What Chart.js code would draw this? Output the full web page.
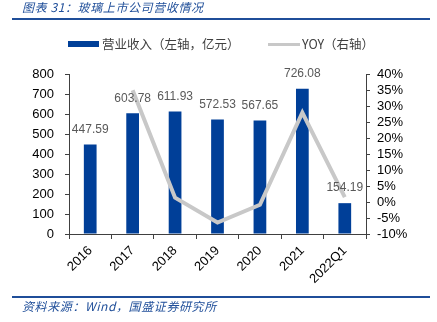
<!DOCTYPE html>
<html>
<head>
<meta charset="utf-8">
<script src="https://cdn.jsdelivr.net/npm/chart.js@4"></script>
<style>
  body { margin: 0; background: #fff; }
  #wrap { position: relative; width: 437px; height: 322px; overflow: hidden; font-family: "Liberation Sans", Arial, sans-serif; }
  #chart { position: absolute; left: 0; top: 0; }
  .cap { position: absolute; left: 22px; color: #1f4e99; font-style: italic; font-family: "Noto Sans CJK SC", sans-serif; font-size: 12px; letter-spacing: 0.6px; white-space: nowrap; }
  .rule { position: absolute; left: 12px; width: 418px; height: 2px; background: #1f4e99; }
  .legend { position: absolute; top: 36px; font-size: 12.5px; color: #404040; white-space: nowrap; font-family: "Noto Sans CJK SC", sans-serif; line-height: 16px; }
  .swatch { position: absolute; }
</style>
</head>
<body>
<div id="wrap">
  <canvas id="chart" width="437" height="322"></canvas>
  <div class="cap" style="top:-2px;">图表 31：玻璃上市公司营收情况</div>
  <div class="rule" style="top:18px;"></div>
  <div class="swatch" style="left:68px;top:41px;width:31px;height:6px;background:#003f98;"></div>
  <div class="legend" style="left:102px;">营业收入（左轴，亿元）</div>
  <div class="swatch" style="left:268px;top:43px;width:32px;height:3px;background:#c8c8c8;"></div>
  <div class="legend" style="left:302px;">YOY（右轴）</div>
  <div class="rule" style="top:296px;"></div>
  <div class="cap" style="top:297px;">资料来源：Wind，国盛证券研究所</div>
</div>
<script>
const years = ["2016", "2017", "2018", "2019", "2020", "2021", "2022Q1"];
const revenue = [447.59, 603.78, 611.93, 572.53, 567.65, 726.08, 154.19];
const yoy = [null, 34.9, 1.35, -6.4, -0.85, 27.9, 1.5];

// value labels above the bars
const barLabels = {
  id: "barLabels",
  afterDatasetsDraw(chart) {
    const { ctx } = chart;
    const meta = chart.getDatasetMeta(1);
    ctx.save();
    ctx.font = "12px 'Liberation Sans', Arial, sans-serif";
    ctx.fillStyle = "#595959";
    ctx.textAlign = "center";
    ctx.textBaseline = "middle";
    meta.data.forEach((bar, i) => {
      ctx.fillText(revenue[i].toFixed(2), bar.x, bar.y - 15);
    });
    ctx.restore();
  },
};

const axisColor = "#404040";
const tickFont = { family: "'Liberation Sans', Arial, sans-serif", size: 13 };

new Chart(document.getElementById("chart"), {
  data: {
    labels: years,
    datasets: [
      {
        type: "line",
        data: yoy,
        yAxisID: "y1",
        borderColor: "#c8c8c8",
        borderWidth: 4,
        pointRadius: 0,
        tension: 0,
        fill: false,
        order: 0,
      },
      {
        type: "bar",
        data: revenue,
        yAxisID: "y",
        backgroundColor: "#003f98",
        barPercentage: 0.3,
        categoryPercentage: 1,
        order: 1,
      },
    ],
  },
  plugins: [barLabels],
  options: {
    responsive: false,
    animation: false,
    layout: { padding: { top: 74, left: 0, right: 0, bottom: 0 } },
    plugins: { legend: { display: false }, tooltip: { enabled: false } },
    scales: {
      x: {
        offset: true,
        afterFit: (s) => { s.height = 88; },
        border: { color: axisColor, width: 1 },
        grid: { display: true, drawOnChartArea: false, offset: true, tickLength: 5, color: axisColor },
        ticks: { color: "#000", font: tickFont, minRotation: 45, maxRotation: 45, padding: 4, autoSkip: false },
      },
      y: {
        position: "left",
        min: 0,
        max: 800,
        afterFit: (s) => { s.width = 69; },
        border: { color: axisColor, width: 1 },
        grid: { drawOnChartArea: false, tickLength: 4, color: axisColor },
        ticks: { stepSize: 100, color: "#000", font: tickFont, padding: 11, autoSkip: false },
      },
      y1: {
        position: "right",
        min: -10,
        max: 40,
        afterFit: (s) => { s.width = 71; },
        border: { color: axisColor, width: 1 },
        grid: { drawOnChartArea: false, tickLength: 4, color: axisColor },
        ticks: { stepSize: 5, color: "#000", font: tickFont, padding: 7, autoSkip: false, callback: (v) => v + "%" },
      },
    },
  },
});
</script>
</body>
</html>
